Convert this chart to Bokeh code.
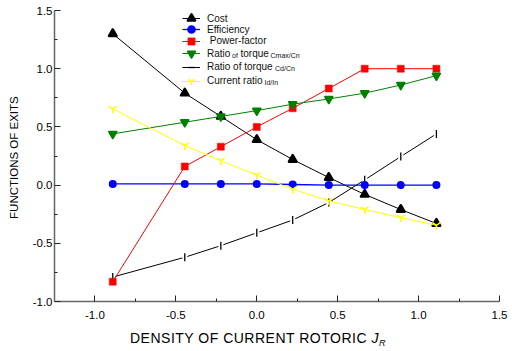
import math
from bokeh.plotting import figure
from bokeh.layouts import column
from bokeh.models import Range1d, Legend, LegendItem, Label, PrintfTickFormatter, FixedTicker, Div
from bokeh.embed import file_html
from bokeh.resources import INLINE

# ---- data ----
jr = [-0.89, -0.445, -0.222, 0.0, 0.222, 0.445, 0.667, 0.89, 1.11]
cost = [1.30, 0.79, 0.59, 0.39, 0.22, 0.065, -0.08, -0.21, -0.33]
efficiency = [0.01, 0.01, 0.01, 0.01, 0.005, 0.0, 0.0, 0.0, 0.0]
power_factor = [-0.83, 0.16, 0.33, 0.50, 0.66, 0.83, 1.0, 1.0, 1.0]
torque_max = [0.44, 0.54, 0.59, 0.64, 0.695, 0.74, 0.79, 0.86, 0.94]
torque_d = [-0.79, -0.62, -0.52, -0.41, -0.30, -0.15, 0.045, 0.245, 0.44]
current_ratio = [0.655, 0.34, 0.21, 0.085, -0.035, -0.135, -0.21, -0.28, -0.345]

x_ticks = [-1.0, -0.5, 0.0, 0.5, 1.0, 1.5]
x_minor = [-0.75, -0.25, 0.25, 0.75, 1.25]
y_ticks = [-1.0, -0.5, 0.0, 0.5, 1.0, 1.5]
y_minor = [-0.75, -0.25, 0.25, 0.75, 1.25]

FONT = "Liberation Sans"
X0, X1, Y0, Y1 = -1.25, 1.5, -1.0, 1.5
W, H = 512, 326
BL, BR, BT, BB = 54, 13, 10, 25
TITLE_H = 25

p = figure(width=W, height=H, output_backend="svg", toolbar_location=None,
           x_range=Range1d(X0, X1), y_range=Range1d(Y0, Y1),
           min_border_left=BL, min_border_right=BR, min_border_top=BT, min_border_bottom=BB)
p.outline_line_color = None
p.xgrid.grid_line_color = None
p.ygrid.grid_line_color = None
p.background_fill_color = "white"
p.border_fill_color = "white"

# helpers: canvas pixel -> data units (for annotation placement inside the frame)
fw = W - BL - BR
fh = H - BT - BB
fb = BT + fh
def dx(px):
    return X0 + (px - BL) * (X1 - X0) / fw
def dy(py):
    return Y1 - (py - BT) * (Y1 - Y0) / fh

# ---- series ----
# Cd/Cn first (its marker gaps sit under the other series)
l_td = p.line(jr, torque_d, line_color="black", line_width=1)
s_td_gap = p.scatter(jr, torque_d, marker="dash", angle=math.pi / 2, size=8,
                     line_color="white", line_width=5)
s_td = p.scatter(jr, torque_d, marker="dash", angle=math.pi / 2, size=8,
                 line_color="black", line_width=1.3)

l_cost = p.line(jr, cost, line_color="black", line_width=1)
s_cost = p.scatter(jr, cost, marker="triangle", size=7.5, fill_color="black",
                   line_color="black", line_width=2.5, line_join="round")

l_eff = p.line(jr, efficiency, line_color="#0000FF", line_width=1.3)
s_eff = p.scatter(jr, efficiency, marker="circle", size=6.5, fill_color="#0000FF",
                  line_color="#0000FF", line_width=1.5)

l_pf = p.line(jr, power_factor, line_color="#FF0000", line_width=1)
s_pf = p.scatter(jr, power_factor, marker="square", size=7, fill_color="#FF0000",
                 line_color="#FF0000", line_width=0.5)

l_tm = p.line(jr, torque_max, line_color="#008000", line_width=1)
s_tm = p.scatter(jr, torque_max, marker="inverted_triangle", size=7.5, fill_color="#008000",
                 line_color="#008000", line_width=2, line_join="round")

l_cr = p.line(jr, current_ratio, line_color="#FFFF00", line_width=1)
s_cr = p.scatter(jr, current_ratio, marker="y", size=9, line_color="#FFFF00", line_width=1.5)

# ---- axes ----
p.xaxis.ticker = FixedTicker(ticks=x_ticks, minor_ticks=x_minor)
p.yaxis.ticker = FixedTicker(ticks=y_ticks, minor_ticks=y_minor)
for ax in (p.xaxis[0], p.yaxis[0]):
    ax.formatter = PrintfTickFormatter(format="%.1f")
    ax.major_tick_in = 6
    ax.major_tick_out = 0
    ax.minor_tick_in = 3
    ax.minor_tick_out = 0
    ax.axis_line_color = "#666666"
    ax.axis_line_width = 1.5
    ax.major_tick_line_color = "#222222"
    ax.minor_tick_line_color = "#222222"
    ax.major_label_text_font = FONT
    ax.major_label_text_font_size = "11.5px"
    ax.major_label_text_color = "black"
p.yaxis.major_label_standoff = 2
p.xaxis.major_label_standoff = 9

p.yaxis.axis_label = "FUNCTIONS  OF EXITS"
p.yaxis.axis_label_text_font = FONT
p.yaxis.axis_label_text_font_size = "11.5px"
p.yaxis.axis_label_text_font_style = "normal"
p.yaxis.axis_label_text_color = "black"
p.yaxis.axis_label_standoff = 10

# ---- legend: one single-item legend per row so the samples keep room for their markers ----
items = [
    ("Cost", [l_cost, s_cost]),
    ("Efficiency", [l_eff, s_eff]),
    (" Power-factor", [l_pf, s_pf]),
    ("Ratio", [l_tm, s_tm]),
    ("Ratio of torque", [l_td, s_td_gap, s_td]),
    ("Current ratio", [l_cr, s_cr]),
]
row_c = [18.3, 29.3, 40.7, 53.3, 66.7, 80.7]
for (lab, rends), c in zip(items, row_c):
    lg = Legend(items=[LegendItem(label=lab, renderers=rends)],
                location=(128, fb - (c + 12)), padding=0, margin=0,
                border_line_color=None, background_fill_alpha=0,
                label_text_font=FONT, label_text_font_size="10px",
                label_text_color="#111111",
                glyph_width=18, glyph_height=24, label_height=24, spacing=0,
                label_standoff=7)
    p.add_layout(lg)

def small(txt, px, row, size="7px", shift=1.5):
    p.add_layout(Label(x=dx(px), y=dy(row_c[row] + shift), text=txt, text_font=FONT,
                       text_font_size=size, text_baseline="middle", text_color="#111111"))
small("of", 231.5, 3)
small("torque", 240, 3, size="10px", shift=0)
small("Cmax/Cn", 270, 3)
small("Cd/Cn", 274.5, 4)
small("Id/In", 264, 5)

# ---- x axis title (below the figure, with italic J and subscript R) ----
title = Div(
    text='DENSITY OF CURRENT ROTORIC <span style="font-style:italic">J</span>'
         '<span style="font-style:italic;font-size:9px;position:relative;top:3px">R</span>',
    width=W, height=TITLE_H, margin=0,
    styles={"font-family": FONT, "font-size": "14px", "color": "black",
            "letter-spacing": "0.5px", "padding-left": "130px", "padding-top": "4px",
            "line-height": "16px", "white-space": "nowrap", "background": "white"},
)

layout = column(p, title, spacing=0)
open("out.html", "w").write(file_html(layout, INLINE))
